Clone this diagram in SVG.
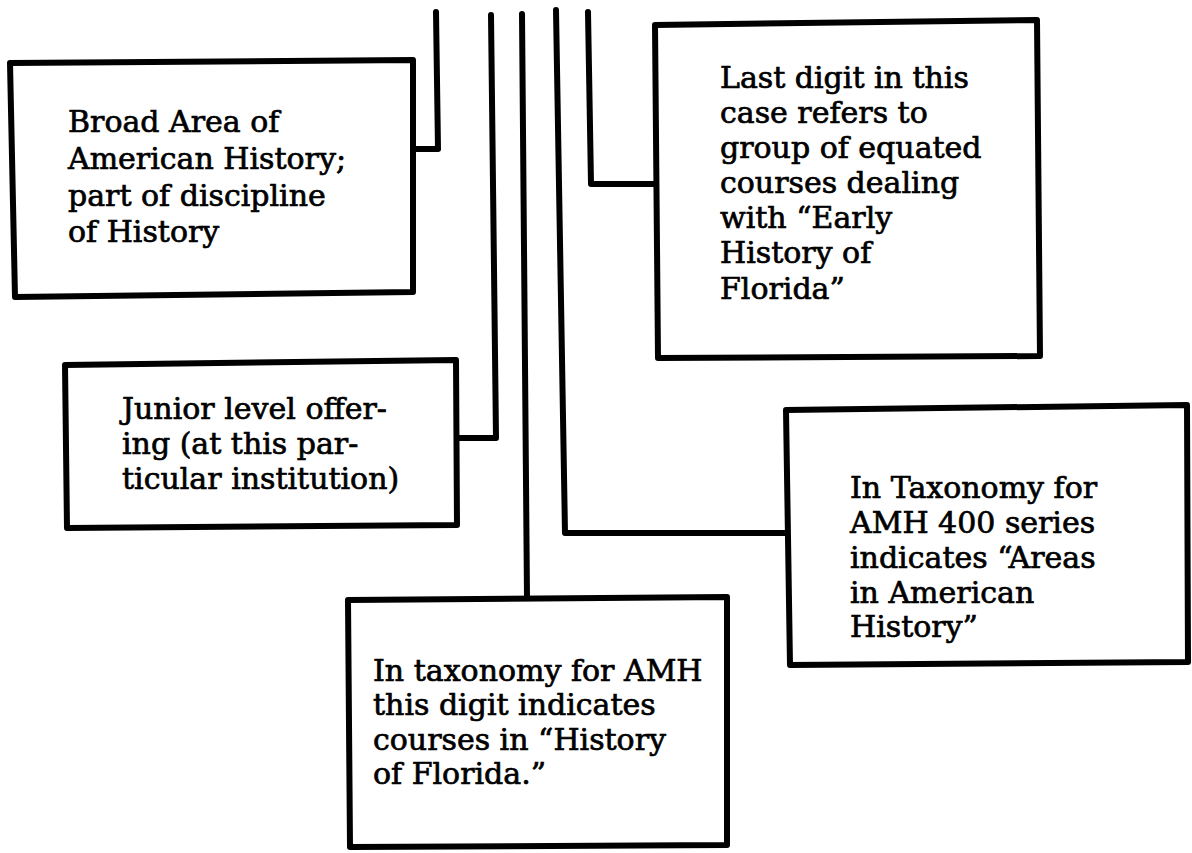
<svg xmlns="http://www.w3.org/2000/svg" width="1192" height="853" viewBox="0 0 1192 853">
<style>
.box{fill:#fff;stroke:#000;stroke-width:6;stroke-linejoin:round}
.conn{fill:none;stroke:#000;stroke-width:6;stroke-linejoin:round;stroke-linecap:round}
text{font-family:"DejaVu Serif","Liberation Serif",serif;font-size:30px;fill:#000;stroke:#000;stroke-width:0.7}
</style>
<rect width="1192" height="853" fill="#fff"/>
<g id="connectors">
<path class="conn" d="M436,12 L438,149 L411,149"/>
<path class="conn" d="M491,15 L496,438 L457,438"/>
<path class="conn" d="M522,14 L527,598"/>
<path class="conn" d="M556,10 L565,533 L786,533"/>
<path class="conn" d="M588,12 L591,184 L656,184"/>
</g>
<g id="node-broad-area">
<polygon class="box" points="10,63 413,60 413,292 15,297"/>
<text x="68" y="132">Broad Area of</text>
<text x="68" y="169">American History;</text>
<text x="68" y="206">part of discipline</text>
<text x="68" y="242">of History</text>
</g>
<g id="node-last-digit">
<polygon class="box" points="655,25 1037,20 1040,356 658,358"/>
<text x="720" y="88">Last digit in this</text>
<text x="720" y="123">case refers to</text>
<text x="720" y="158">group of equated</text>
<text x="720" y="193">courses dealing</text>
<text x="720" y="228">with “Early</text>
<text x="720" y="263">History of</text>
<text x="720" y="299">Florida”</text>
</g>
<g id="node-junior">
<polygon class="box" points="65,365 456,360 457,525 67,528"/>
<text x="122" y="419">Junior level offer-</text>
<text x="122" y="454">ing (at this par-</text>
<text x="122" y="489">ticular institution)</text>
</g>
<g id="node-taxonomy-400">
<polygon class="box" points="786,410 1187,405 1188,662 790,665"/>
<text x="850" y="498">In Taxonomy for</text>
<text x="850" y="533">AMH 400 series</text>
<text x="850" y="568">indicates “Areas</text>
<text x="850" y="603">in  American</text>
<text x="850" y="637">History”</text>
</g>
<g id="node-florida">
<polygon class="box" points="348,600 727,597 727,845 350,847"/>
<text x="373" y="681">In taxonomy for AMH</text>
<text x="373" y="715">this digit indicates</text>
<text x="373" y="750">courses in “History</text>
<text x="373" y="784">of Florida.”</text>
</g>
</svg>
